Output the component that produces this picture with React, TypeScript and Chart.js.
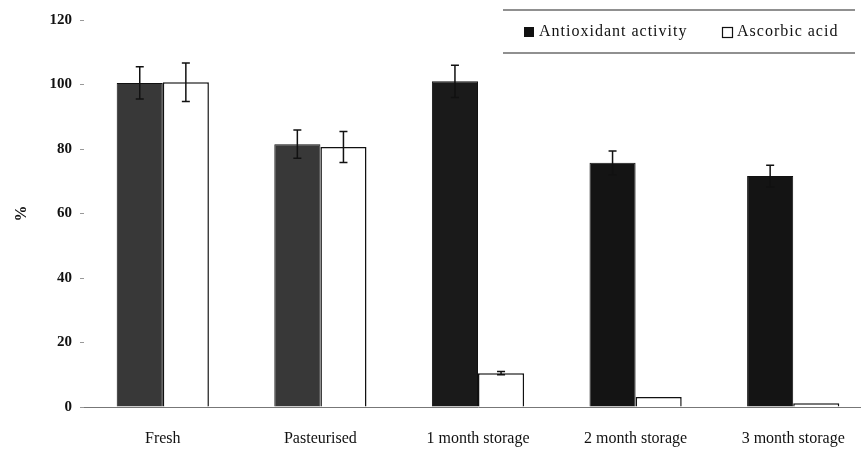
import React, { useEffect, useRef } from "react";
import { Chart, registerables } from "chart.js";

Chart.register(...registerables);

const categories = ["Fresh", "Pasteurised", "1 month storage", "2 month storage", "3 month storage"];
const antioxidantActivity = [100.5, 81.5, 101, 75.7, 71.6];
const antioxidantError = [5, 4.4, 5, 3.7, 3.4];
const ascorbicAcid = [100.7, 80.6, 10.5, 3.1, 1.2];
const ascorbicError = [6, 4.8, 0.5, 0, 0];
const yTicks = [0, 20, 40, 60, 80, 100, 120];

const SERIF = "'Liberation Serif', 'DejaVu Serif', serif";

const errorBarPlugin = {
  id: "errorBars",
  afterDatasetsDraw(chart: any) {
    const ctx = chart.ctx;
    const y = chart.scales.y;
    chart.data.datasets.forEach((ds: any, i: number) => {
      const meta = chart.getDatasetMeta(i);
      const errs: number[] = ds.errors || [];
      meta.data.forEach((el: any, j: number) => {
        const e = errs[j];
        if (!e) return;
        const v = ds.data[j];
        const top = y.getPixelForValue(v + e);
        const bot = y.getPixelForValue(v - e);
        ctx.save();
        ctx.strokeStyle = "#111";
        ctx.lineWidth = 1.5;
        ctx.beginPath();
        ctx.moveTo(el.x, top);
        ctx.lineTo(el.x, bot);
        ctx.moveTo(el.x - 4, top);
        ctx.lineTo(el.x + 4, top);
        ctx.moveTo(el.x - 4, bot);
        ctx.lineTo(el.x + 4, bot);
        ctx.stroke();
        ctx.restore();
      });
    });
  },
};

const legendPlugin = {
  id: "boxLegend",
  afterDraw(chart: any) {
    const ctx = chart.ctx;
    const left = 503;
    const right = 855;
    const topY = 10;
    const botY = 53;
    ctx.save();
    ctx.strokeStyle = "#222";
    ctx.lineWidth = 1.2;
    ctx.beginPath();
    ctx.moveTo(left, topY);
    ctx.lineTo(right, topY);
    ctx.moveTo(left, botY);
    ctx.lineTo(right, botY);
    ctx.stroke();
    ctx.font = `16px ${SERIF}`;
    (ctx as any).letterSpacing = "1px";
    ctx.textBaseline = "middle";
    const midY = 32;
    const ds = chart.data.datasets;
    ctx.fillStyle = "#111";
    ctx.fillRect(524, midY - 5, 10, 10);
    ctx.fillText(ds[0].label, 539, midY);
    ctx.fillStyle = "#fff";
    ctx.fillRect(722, midY - 5, 10, 10);
    ctx.strokeStyle = "#111";
    ctx.lineWidth = 1.2;
    ctx.strokeRect(722.5, midY - 4.5, 10, 10);
    ctx.fillStyle = "#111";
    ctx.fillText(ds[1].label, 737, midY);
    (ctx as any).letterSpacing = "0px";
    ctx.restore();
  },
};

export default function App() {
  const ref = useRef<HTMLCanvasElement | null>(null);
  useEffect(() => {
    document.body.style.margin = "0";
    if (!ref.current) return;
    const chart = new Chart(ref.current, {
      type: "bar",
      data: {
        labels: categories,
        datasets: [
          {
            label: "Antioxidant activity",
            data: antioxidantActivity,
            errors: antioxidantError,
            backgroundColor: ["#383838", "#383838", "#1a1a1a", "#141414", "#141414"],
            borderColor: "#111",
            borderWidth: 1,
            categoryPercentage: 0.585,
            barPercentage: 1.0,
          } as any,
          {
            label: "Ascorbic acid",
            data: ascorbicAcid,
            errors: ascorbicError,
            backgroundColor: "#ffffff",
            borderColor: "#111",
            borderWidth: 1.5,
            categoryPercentage: 0.585,
            barPercentage: 1.0,
          } as any,
        ],
      },
      options: {
        animation: false,
        responsive: true,
        maintainAspectRatio: false,
        layout: { padding: { top: 20, right: 0, left: 0, bottom: 0 } },
        plugins: {
          legend: { display: false },
          tooltip: { enabled: false },
        },
        scales: {
          x: {
            grid: { display: false },
            border: { display: true, color: "#777", width: 1 },
            ticks: {
              color: "#111",
              font: { family: SERIF, size: 16 },
              padding: 14,
            },
            afterFit(scale: any) {
              scale.height = 43;
            },
          },
          y: {
            min: 0,
            max: 120,
            afterBuildTicks(scale: any) {
              scale.ticks = yTicks.map((v) => ({ value: v }));
            },
            grid: { drawOnChartArea: false, drawTicks: true, tickLength: 4, color: "#999" },
            border: { display: false },
            ticks: {
              color: "#111",
              font: { family: SERIF, size: 15, weight: "bold" },
              padding: 8,
            },
            title: {
              display: true,
              text: "%",
              color: "#111",
              font: { family: SERIF, size: 16, weight: "bold" },
              padding: { top: 12, bottom: 0 },
            },
            afterFit(scale: any) {
              scale.width = 84;
            },
          },
        },
      },
      plugins: [errorBarPlugin, legendPlugin],
    } as any);
    return () => chart.destroy();
  }, []);
  return (
    <div style={{ width: 861, height: 450, position: "relative", overflow: "hidden", background: "#fff" }}>
      <div style={{ width: 872, height: 450, position: "relative" }}>
        <canvas ref={ref} />
      </div>
    </div>
  );
}
